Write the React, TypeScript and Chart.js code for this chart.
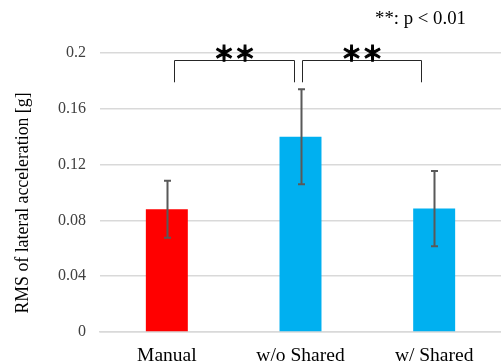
import React, { useEffect, useRef } from "react";
import { Chart, registerables } from "chart.js";

Chart.register(...registerables);

// Conditions and measured RMS of lateral acceleration (mean ± SD)
const categories = ["Manual", "w/o Shared", "w/ Shared"];
const means = [0.088, 0.14, 0.0885];
const sd = [0.0205, 0.034, 0.027];
const barColors = ["#ff0000", "#00b0f0", "#00b0f0"];
const yTicks = [0, 0.04, 0.08, 0.12, 0.16, 0.2];
const yTitle = "RMS of lateral acceleration [g]";

// Significance brackets: [from category, to category, label]
const brackets: [number, number, string][] = [
  [0.05, 0.95, "＊＊"],
  [1.01, 1.9, "＊＊"],
];
const bracketTop = 0.195;
const bracketBottom = 0.179;
const noteText = "**: p < 0.01";

const SERIF = '"Liberation Serif", "Times New Roman", serif';

const overlay = {
  id: "overlay",
  afterDatasetsDraw(chart: any) {
    const { ctx, scales } = chart;
    const x = scales.x;
    const y = scales.y;
    ctx.save();
    // error bars
    ctx.strokeStyle = "#595959";
    ctx.lineWidth = 2;
    means.forEach((m, i) => {
      const cx = Math.round(x.getPixelForValue(i)) + 0.5;
      const top = y.getPixelForValue(m + sd[i]);
      const bot = y.getPixelForValue(m - sd[i]);
      ctx.beginPath();
      ctx.moveTo(cx, top);
      ctx.lineTo(cx, bot);
      ctx.moveTo(cx - 3.5, top);
      ctx.lineTo(cx + 3.5, top);
      ctx.moveTo(cx - 3.5, bot);
      ctx.lineTo(cx + 3.5, bot);
      ctx.stroke();
    });
    // brackets with significance marks
    const yt = Math.round(y.getPixelForValue(bracketTop)) + 0.5;
    const yb = y.getPixelForValue(bracketBottom);
    brackets.forEach(([a, b, label]) => {
      const xa = Math.round(x.getPixelForValue(a)) + 0.5;
      const xb = Math.round(x.getPixelForValue(b)) + 0.5;
      ctx.strokeStyle = "#262626";
      ctx.lineWidth = 1;
      ctx.beginPath();
      ctx.moveTo(xa, yb);
      ctx.lineTo(xa, yt);
      ctx.lineTo(xb, yt);
      ctx.lineTo(xb, yb);
      ctx.stroke();
      ctx.fillStyle = "#000";
      ctx.strokeStyle = "#000";
      ctx.lineWidth = 1.2;
      ctx.font = 'bold 21px "Noto Sans CJK JP", sans-serif';
      ctx.textAlign = "center";
      ctx.textBaseline = "middle";
      ctx.fillText(label, (xa + xb) / 2, yt - 7);
      ctx.strokeText(label, (xa + xb) / 2, yt - 7);
    });
    // significance note
    ctx.fillStyle = "#000";
    ctx.font = `18.8px ${SERIF}`;
    ctx.textAlign = "left";
    ctx.textBaseline = "alphabetic";
    ctx.fillText(noteText, 375, 24);
    // y axis title
    ctx.translate(28, 203);
    ctx.rotate(-Math.PI / 2);
    ctx.font = `17.8px ${SERIF}`;
    ctx.textAlign = "center";
    ctx.fillText(yTitle, 0, 0);
    ctx.restore();
  },
};

export default function App() {
  const ref = useRef<HTMLCanvasElement>(null);
  useEffect(() => {
    if (!ref.current) return;
    const chart = new Chart(ref.current, {
      type: "bar",
      data: {
        labels: categories,
        datasets: [
          {
            data: means,
            backgroundColor: barColors,
            barPercentage: 0.314,
            categoryPercentage: 1,
          },
        ],
      },
      options: {
        animation: false,
        responsive: false,
        layout: { padding: { top: 53, right: 0, left: 0, bottom: 0 } },
        plugins: { legend: { display: false }, tooltip: { enabled: false } },
        scales: {
          x: {
            grid: { display: false },
            border: { display: true, color: "#d9d9d9", width: 1.5 },
            ticks: {
              color: "#000",
              font: { family: SERIF, size: 19.5 },
              padding: 4,
            },
            afterFit(s: any) {
              s.height = 31;
            },
          },
          y: {
            min: 0,
            max: 0.2,
            afterBuildTicks(s: any) {
              s.ticks = yTicks.map((v) => ({ value: v }));
            },
            grid: { color: "#d9d9d9", lineWidth: 1.5, drawTicks: false },
            border: { display: false },
            ticks: {
              color: "#404040",
              font: { family: SERIF, size: 16 },
              padding: 14,
              callback: (v: any) => String(v),
            },
            afterFit(s: any) {
              s.width = 100;
            },
          },
        },
      },
      plugins: [overlay],
    });
    return () => chart.destroy();
  }, []);
  return (
    <div style={{ position: "fixed", left: 0, top: 0, width: 501, height: 363, background: "#fff" }}>
      <canvas ref={ref} width={501} height={363} />
    </div>
  );
}
